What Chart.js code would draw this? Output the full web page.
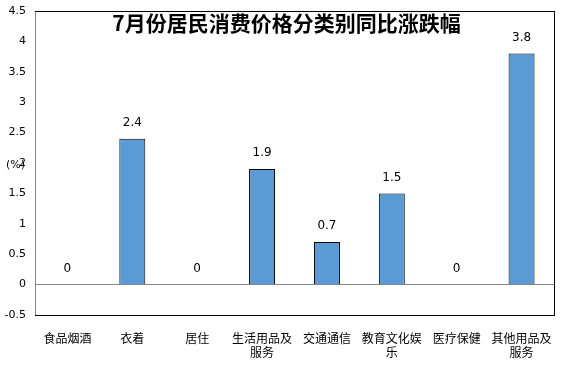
<!DOCTYPE html>
<html>
<head>
<meta charset="utf-8">
<script src="https://cdn.jsdelivr.net/npm/chart.js@4"></script>
<style>
  html, body { margin: 0; padding: 0; background: #fff; }
  #wrap { width: 574px; height: 374px; }
</style>
</head>
<body>
<div id="wrap"><canvas id="cpi" width="574" height="374"></canvas></div>
<script>
// categories and year-on-year change (%)
const categories = [
  '食品烟酒', '衣着', '居住', ['生活用品及', '服务'],
  '交通通信', ['教育文化娱', '乐'], '医疗保健', ['其他用品及', '服务']
];
const changes = [0, 2.4, 0, 1.9, 0.7, 1.5, 0, 3.8];
const yTicks = [-0.5, 0, 0.5, 1, 1.5, 2, 2.5, 3, 3.5, 4, 4.5];

const titleText = '7月份居民消费价格分类别同比涨跌幅';
const unitText = '(%)';

const baseFont = "Tahoma, 'DejaVu Sans', 'Noto Sans CJK SC', sans-serif";

// frame, value labels, title and unit drawn over the chart
const decor = {
  id: 'decor',
  afterDraw(chart) {
    const ctx = chart.ctx;
    const a = chart.chartArea;
    const l = Math.round(a.left), t = Math.round(a.top);
    const r = Math.round(a.right), b = Math.round(a.bottom);
    ctx.save();
    ctx.lineWidth = 1;
    ctx.strokeStyle = '#000000';
    ctx.strokeRect(l + 0.5, t + 0.5, r - l, b - t);
    // left axis stays grey
    ctx.strokeStyle = '#888888';
    ctx.beginPath();
    ctx.moveTo(l + 0.5, t + 1);
    ctx.lineTo(l + 0.5, b);
    ctx.stroke();

    ctx.fillStyle = '#000';
    ctx.textAlign = 'center';
    ctx.textBaseline = 'middle';
    ctx.font = "12px " + baseFont;
    chart.getDatasetMeta(0).data.forEach((bar, i) => {
      ctx.fillText(String(changes[i]), bar.x, bar.y - 16);
    });

    ctx.font = "bold 21px 'Noto Sans CJK SC', sans-serif";
    ctx.fillText(titleText, (a.left + a.right) / 2 - 8, a.top + 12);

    ctx.font = "11px " + baseFont;
    ctx.textAlign = 'left';
    ctx.fillText(unitText, 6, chart.scales.y.getPixelForValue(2) + 2);
    ctx.restore();
  }
};

new Chart(document.getElementById('cpi'), {
  type: 'bar',
  data: {
    labels: categories,
    datasets: [{
      data: changes,
      backgroundColor: '#5b9bd5',
      borderColor: '#000',
      borderWidth: 1,
      barPercentage: 0.4,
      categoryPercentage: 1
    }]
  },
  options: {
    responsive: false,
    animation: false,
    layout: { padding: { top: 11, right: 20, left: 0, bottom: 0 } },
    plugins: { legend: { display: false }, tooltip: { enabled: false } },
    scales: {
      x: {
        grid: { display: false },
        border: { display: true, color: '#000', width: 1 },
        ticks: {
          color: '#000',
          maxRotation: 0,
          autoSkip: false,
          padding: 8,
          font: { size: 12, family: "'Noto Sans CJK SC', sans-serif", lineHeight: 1.2 }
        },
        afterFit: s => { s.height = 59; }
      },
      y: {
        min: -0.5,
        max: 4.5,
        afterBuildTicks: s => { s.ticks = yTicks.map(v => ({ value: v })); },
        grid: {
          drawTicks: false,
          color: c => (c.tick && c.tick.value === 0 ? '#888' : 'rgba(0,0,0,0)')
        },
        border: { display: true, color: '#888' },
        ticks: {
          color: '#000',
          padding: 9,
          font: { size: 11, family: baseFont },
          callback: v => String(v)
        },
        afterFit: s => {
          s.width = 35;
          s.paddingTop = 0;
          s.paddingBottom = 0;
        }
      }
    }
  },
  plugins: [decor]
});
</script>
</body>
</html>
